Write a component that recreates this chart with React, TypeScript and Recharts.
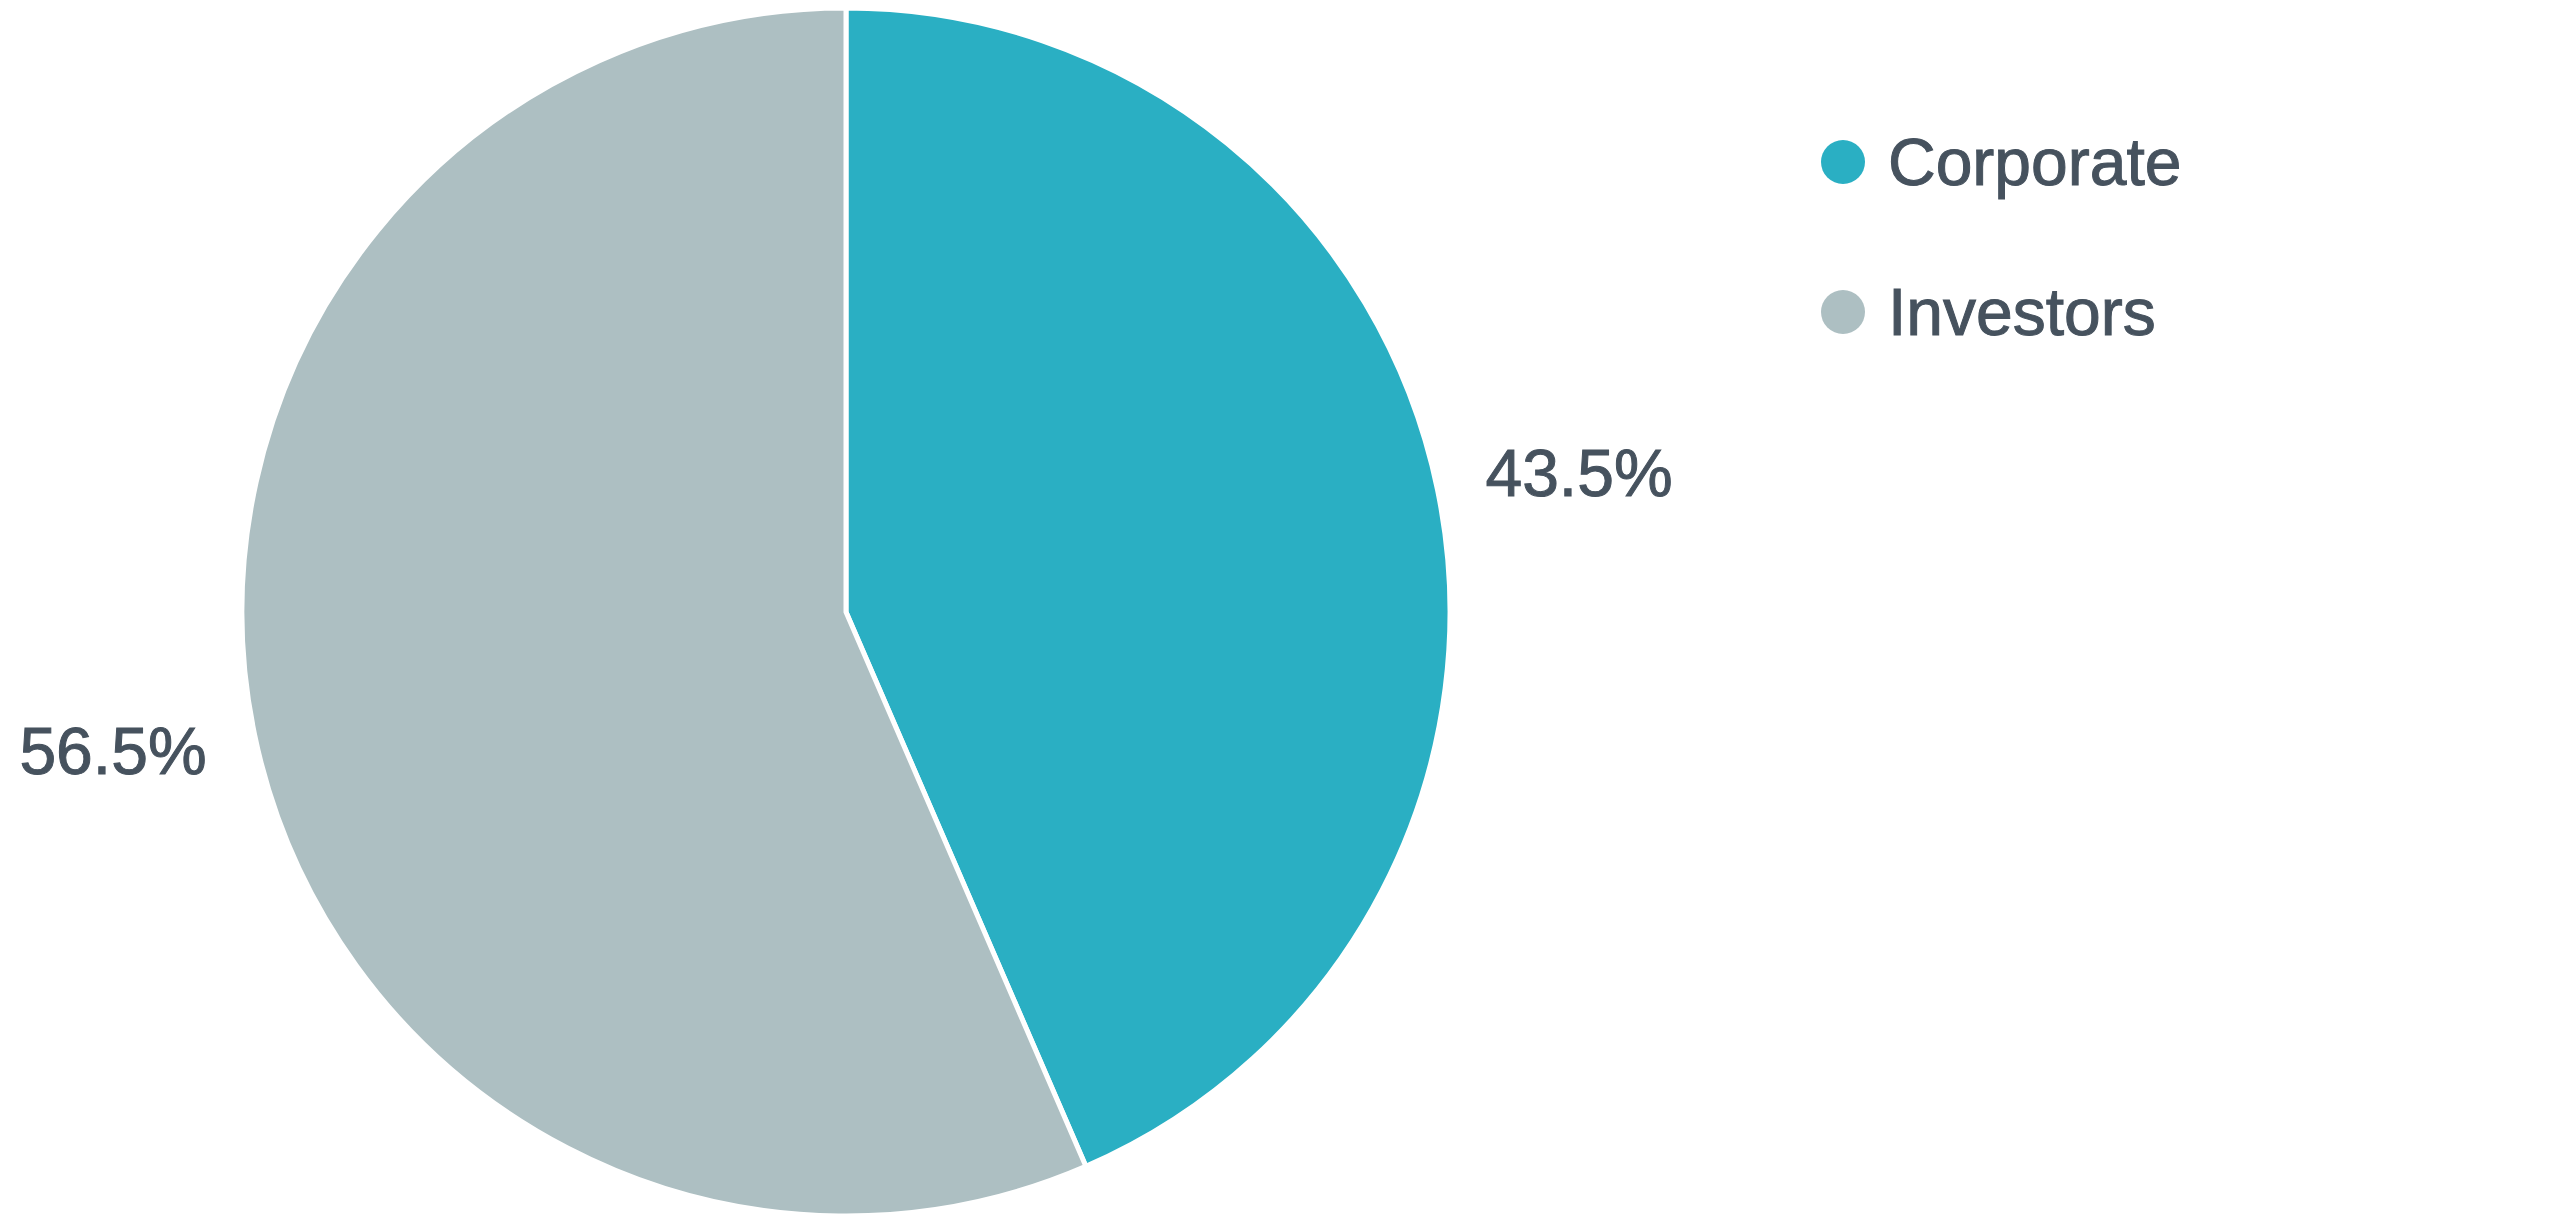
import React from "react";
import { PieChart, Pie, Cell, Legend } from "recharts";

const categories = ["Corporate", "Investors"];
const shares = [43.5, 56.5];
const colors = ["#2aafc3", "#adbfc2"];

const data = categories.map((name, i) => ({ name, value: shares[i] }));

const TEXT = "#46525e";
const FONT = "'Liberation Sans', Arial, Helvetica, sans-serif";
const RAD = Math.PI / 180;

function PercentLabel(props: any) {
  const { cx, cy, midAngle, outerRadius, value } = props;
  const x = cx + (outerRadius + 49) * Math.cos(-midAngle * RAD);
  const y = cy + (outerRadius + 81) * Math.sin(-midAngle * RAD);
  return (
    <text
      x={x}
      y={y}
      fill={TEXT}
      stroke={TEXT}
      strokeWidth={1}
      fontSize={66}
      fontFamily={FONT}
      textAnchor={x > cx ? "start" : "end"}
      dominantBaseline="central"
    >
      {value.toFixed(1)}%
    </text>
  );
}

function LegendList({ payload }: { payload?: Array<{ value: string; color: string }> }) {
  if (!payload) return null;
  return (
    <div style={{ display: "flex", flexDirection: "column", gap: 84 }}>
      {payload.map((p) => (
        <div
          key={p.value}
          style={{ display: "flex", alignItems: "center", height: 66 }}
        >
          <span
            style={{
              width: 44,
              height: 44,
              borderRadius: "50%",
              background: p.color,
              marginRight: 23,
              flex: "none",
            }}
          />
          <span
            style={{
              fontFamily: FONT,
              fontSize: 66,
              lineHeight: "66px",
              color: TEXT,
              WebkitTextStroke: `1px ${TEXT}`,
            }}
          >
            {p.value}
          </span>
        </div>
      ))}
    </div>
  );
}

export default function App() {
  return (
    <div style={{ width: 2543, height: 1216, background: "#fff" }}>
      <PieChart width={2543} height={1216} margin={{ top: 0, right: 0, bottom: 0, left: 0 }}>
        <Pie
          data={data}
          dataKey="value"
          nameKey="name"
          cx={838}
          cy={604}
          outerRadius={604}
          startAngle={90}
          endAngle={-270}
          stroke="#ffffff"
          strokeWidth={5}
          label={PercentLabel}
          labelLine={false}
          isAnimationActive={false}
        >
          {data.map((d, i) => (
            <Cell key={d.name} fill={colors[i]} />
          ))}
        </Pie>
        <Legend
          layout="vertical"
          verticalAlign="top"
          align="right"
          content={(p: any) => <LegendList payload={p.payload} />}
          wrapperStyle={{ left: 1813, top: 121, width: 500 }}
        />
      </PieChart>
    </div>
  );
}
